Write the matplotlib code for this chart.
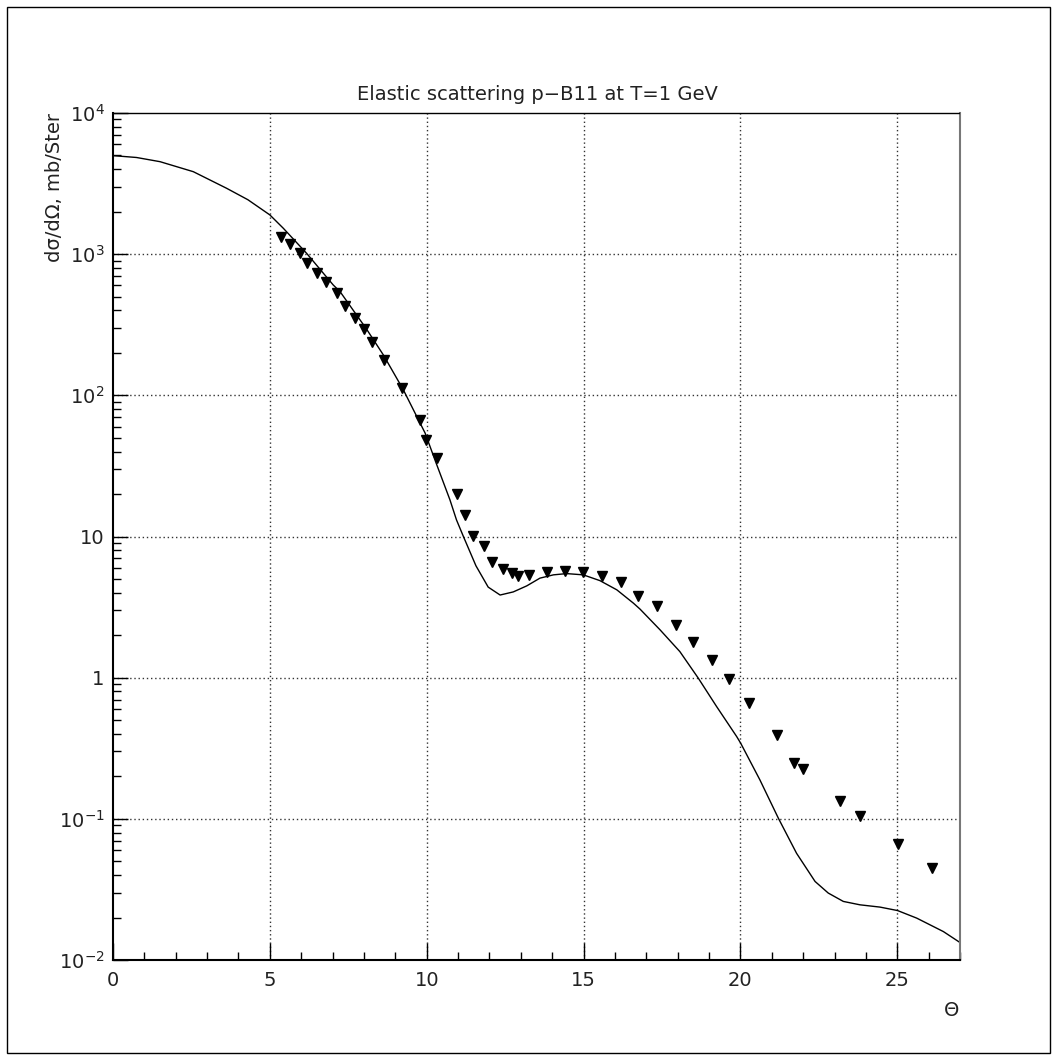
import numpy as np
import matplotlib.pyplot as plt
from matplotlib.patches import Rectangle
from matplotlib.ticker import FixedLocator, FixedFormatter, LogLocator, NullFormatter

# Theory curve
theta_curve = [0.0, 0.75, 1.50, 2.56, 3.62, 4.30, 5.00, 5.43, 6.17, 7.02, 7.24, 8.08,
               8.62, 9.25, 9.95, 10.26, 10.74, 10.95, 11.17, 11.57, 11.96, 12.34,
               12.76, 13.19, 13.61, 14.04, 14.46, 14.99, 15.52, 16.06, 16.59, 16.80,
               17.44, 18.07, 18.66, 19.24, 19.88, 20.01, 20.62, 21.21, 21.79, 22.38,
               22.80, 23.28, 23.81, 24.45, 25.01, 25.62, 26.47, 27.0]
xs_curve = [4990, 4840, 4520, 3840, 2930, 2430, 1897, 1525, 1015, 605, 542, 295,
            193, 110, 54, 35, 18.2, 13.1, 10.0, 6.2, 4.38, 3.85,
            4.05, 4.47, 5.07, 5.35, 5.46, 5.35, 4.87, 4.19, 3.37, 3.06,
            2.18, 1.53, 0.99, 0.625, 0.383, 0.343, 0.189, 0.101, 0.057, 0.036,
            0.0298, 0.026, 0.0246, 0.0237, 0.0224, 0.0198, 0.0159, 0.0133]

# Experimental points
theta_exp = [5.34, 5.64, 5.96, 6.17, 6.49, 6.79, 7.13, 7.40, 7.71, 8.00, 8.27, 8.64,
             9.20, 9.79, 9.98, 10.32, 10.96, 11.23, 11.49, 11.83, 12.09, 12.43,
             12.71, 12.92, 13.27, 13.85, 14.41, 14.99, 15.59, 16.20, 16.75, 17.33,
             17.95, 18.50, 19.08, 19.65, 20.28, 21.16, 21.71, 22.01, 23.18, 23.81,
             25.01, 26.12]
xs_exp = [1320, 1180, 1015, 871, 740, 638, 528, 430, 352, 294, 239, 178,
          112, 67, 48, 36, 20, 14.2, 10.1, 8.5, 6.6, 5.87,
          5.50, 5.29, 5.32, 5.61, 5.67, 5.58, 5.26, 4.75, 3.79, 3.24,
          2.38, 1.78, 1.33, 0.975, 0.66, 0.39, 0.249, 0.227, 0.134, 0.104,
          0.0662, 0.0445]

y_ticks = [1e-2, 1e-1, 1, 10, 1e2, 1e3, 1e4]
y_labels = ['$10^{-2}$', '$10^{-1}$', '1', '10', '$10^{2}$', '$10^{3}$', '$10^{4}$']
x_major = [0, 5, 10, 15, 20, 25]

W, H = 1057, 1061
fig = plt.figure(figsize=(W / 100, H / 100), dpi=100)
ax = fig.add_axes([113 / W, 1 - 960 / H, (960 - 113) / W, (960 - 113) / H])

txt = '#222222'
fs = 14

ax.plot(theta_curve, xs_curve, color='black', lw=1.0)
ax.plot(theta_exp, xs_exp, linestyle='none', marker='v', color='black', ms=7.5)

ax.set_yscale('log')
ax.set_xlim(0, 27)
ax.set_ylim(1e-2, 1e4)

# ticks
ax.xaxis.set_major_locator(FixedLocator(x_major))
ax.xaxis.set_minor_locator(FixedLocator(range(0, 28)))
ax.yaxis.set_major_locator(FixedLocator(y_ticks))
ax.yaxis.set_major_formatter(FixedFormatter(y_labels))
ax.yaxis.set_minor_locator(LogLocator(base=10, subs=np.arange(2, 10)))
ax.yaxis.set_minor_formatter(NullFormatter())
ax.tick_params(axis='both', which='both', direction='in', top=False, right=False,
               labelsize=fs, labelcolor=txt, width=1)
ax.tick_params(axis='x', which='major', length=12, pad=8)
ax.tick_params(axis='x', which='minor', length=6)
ax.tick_params(axis='y', which='major', length=11, pad=6)
ax.tick_params(axis='y', which='minor', length=6)

# grid
for xv in [5, 10, 15, 20, 25]:
    ax.axvline(xv, color='#333333', lw=1, linestyle=(0, (1, 2)), zorder=0)
for yv in [1e-1, 1, 10, 1e2, 1e3]:
    ax.axhline(yv, color='#333333', lw=1, linestyle=(0, (1, 2)), zorder=0)

ax.spines['left'].set_linewidth(1.5)
ax.spines['bottom'].set_linewidth(1.5)
ax.spines['right'].set_color('#777777')
ax.spines['right'].set_linewidth(1.5)
ax.spines['top'].set_linestyle((0, (1, 1)))
ax.spines['top'].set_linewidth(1)

# texts
fig.text(537 / W, 1 - 95 / H, 'Elastic scattering p\u2212B11 at T=1 GeV',
         ha='center', va='center', fontsize=fs, color=txt)
fig.text(55 / W, 1 - 113 / H, 'd\u03c3/d\u03a9, mb/Ster', rotation=90,
         ha='center', va='top', fontsize=fs, color=txt)
fig.text(952 / W, 1 - 1011 / H, '\u0398', ha='center', va='center',
         fontsize=fs, color=txt)

# outer frame
fig.patches.append(Rectangle((7 / W, 1 - 1053 / H), (1050 - 7) / W, (1053 - 7) / H,
                             transform=fig.transFigure, fill=False,
                             edgecolor='black', lw=1))

fig.savefig('out.png', dpi=100)
